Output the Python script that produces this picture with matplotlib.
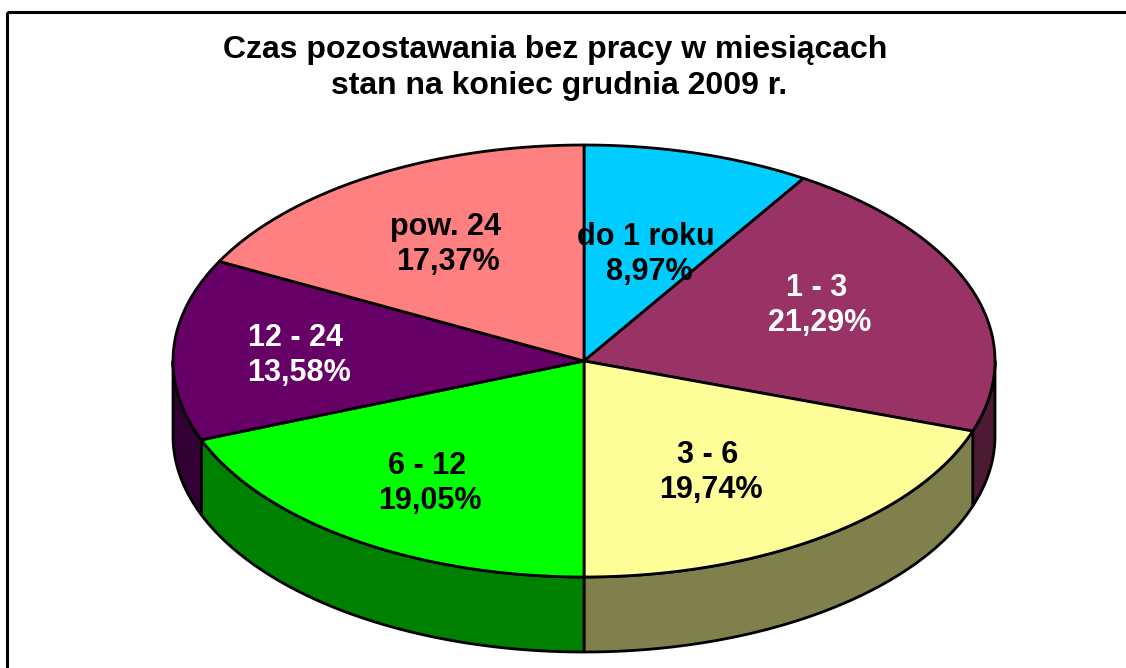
"""Czas pozostawania bez pracy: pseudo-3D pie drawn from the shares."""
import numpy as np
import matplotlib
matplotlib.use("Agg")
import matplotlib.pyplot as plt
from matplotlib.patches import Polygon, Rectangle

categories = ["do 1 roku", "1 - 3", "3 - 6", "6 - 12", "12 - 24", "pow. 24"]
shares = [8.97, 21.29, 19.74, 19.05, 13.58, 17.37]
top_colors = ["#00ccff", "#993366", "#ffff99", "#00ff00", "#660066", "#ff8080"]
side_colors = ["#006680", "#4d1a33", "#80804d", "#008000", "#330033", "#804040"]
label_colors = ["black", "white", "black", "black", "white", "black"]
title_lines = ["Czas pozostawania bez pracy w miesiącach", "stan na koniec grudnia 2009 r."]

W, H = 1126, 668
CX, CY, RX, RY, DEPTH = 584, 361, 411, 216, 75
LW = 2.0

plt.rcParams["font.family"] = ["Liberation Sans", "DejaVu Sans"]


def rim(a1, a2, dy=0):
    """Ellipse points from a1 to a2 (degrees, clockwise from 12 o'clock)."""
    a = np.radians(np.linspace(a1, a2, max(int(abs(a2 - a1)) * 2, 2)))
    return np.column_stack([CX + RX * np.sin(a), CY - RY * np.cos(a) + dy])


fig = plt.figure(figsize=(W / 100, H / 100), dpi=100)
ax = fig.add_axes([0, 0, 1, 1])
ax.set_xlim(0, W)
ax.set_ylim(H, 0)
ax.axis("off")

# frame is cut by the image on the right and at the bottom
ax.add_patch(Rectangle((7, 12), W + 20, H + 20, fill=False, ec="black", lw=2.2))

edges = np.concatenate([[0], np.cumsum(shares)]) / sum(shares) * 360

# side wall: only the part of the rim facing the viewer (90..270 deg)
for i in range(len(shares)):
    a1, a2 = max(edges[i], 90), min(edges[i + 1], 270)
    if a1 < a2:
        top, low = rim(a1, a2), rim(a1, a2, DEPTH)
        ax.add_patch(Polygon(np.vstack([top, low[::-1]]), closed=True,
                             fc=side_colors[i], ec="black", lw=LW, joinstyle="round"))

# top faces
for i in range(len(shares)):
    pts = np.vstack([[CX, CY], rim(edges[i], edges[i + 1])])
    ax.add_patch(Polygon(pts, closed=True, fc=top_colors[i], ec="black", lw=LW,
                         joinstyle="round"))

label_x = [646, 817, 708, 427, 296, 445]
label_y = [237, 288, 455, 466, 338, 227]
for i, c in enumerate(categories):
    ax.text(label_x[i], label_y[i], c, ha="center", va="center", fontsize=22,
            fontweight="bold", color=label_colors[i])
    ax.text(label_x[i] + 3, label_y[i] + 35,
            f"{shares[i]:.2f}%".replace(".", ","), ha="center", va="center",
            fontsize=22, fontweight="bold", color=label_colors[i])

ax.text(555, 50, title_lines[0], ha="center", va="center", fontsize=23, fontweight="bold")
ax.text(559, 86, title_lines[1], ha="center", va="center", fontsize=23, fontweight="bold")

fig.savefig("out.png", dpi=100, facecolor="white")
